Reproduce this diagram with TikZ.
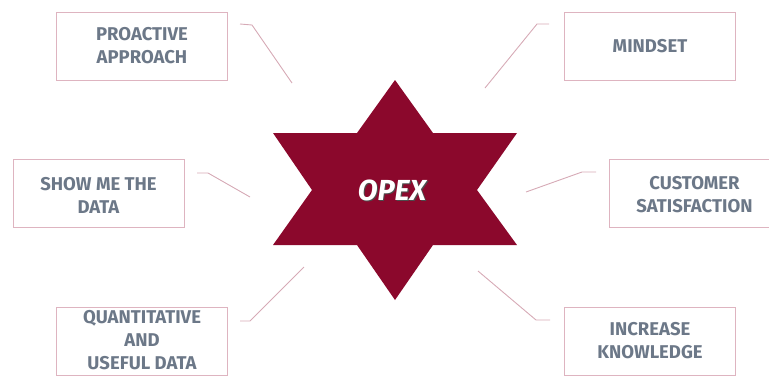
\documentclass[tikz,border=0pt]{standalone}
\usepackage{fontspec}
\setmainfont{Fira Sans}
\definecolor{starred}{RGB}{139,8,44}
\definecolor{boxline}{RGB}{222,180,192}
\definecolor{conn}{RGB}{214,170,182}
\definecolor{txt}{RGB}{108,120,136}
\begin{document}
\begin{tikzpicture}[x=1pt,y=-1pt,
  lbl/.style={draw=boxline,line width=0.9pt,fill=white,minimum width=171pt,minimum height=68pt,inner sep=0pt},
  lbltext/.style={text=txt,font=\fontsize{18.5}{23}\selectfont\bfseries,align=center,inner sep=0pt},
  conline/.style={draw=conn,line width=0.9pt}]
\useasboundingbox (0,0) rectangle (769,376);
\begin{scope}
\clip (0,0) rectangle (769,376);
% star
\fill[starred] (395,80) -- (433,133) -- (517,133) -- (477,190) -- (517,245) -- (433,245)
  -- (395,300) -- (357,245) -- (273,245) -- (312,190) -- (273,133) -- (357,133) -- cycle;
\node[text=black!70,font=\fontsize{29}{29}\selectfont\bfseries\itshape,inner sep=0pt] at (393.2,191.5) {OPEX};
\node (opex) [text=white,font=\fontsize{29}{29}\selectfont\bfseries\itshape,inner sep=0pt] at (392,190) {OPEX};
% boxes
\node (b1) [lbl] at (142,46) {};
\node (b2) [lbl] at (650,46) {};
\node (b3) [lbl] at (98.5,193.5) {};
\node (b4) [lbl] at (694.5,193.5) {};
\node (b5) [lbl] at (142,341) {};
\node (b6) [lbl] at (650,341) {};
\node[lbltext] at (142,46) {PROACTIVE\\APPROACH};
\node[lbltext] at (650,46) {MINDSET};
\node[lbltext] at (98.5,195) {SHOW ME THE\\DATA};
\node[lbltext] at (694.5,195) {CUSTOMER\\SATISFACTION};
\node[lbltext,anchor=north] at (142,310) {QUANTITATIVE\\AND\\USEFUL DATA};
\node[lbltext,anchor=north] at (650,322) {INCREASE\\KNOWLEDGE};
% connector ends
\coordinate (c1a) at (240,24); \coordinate (c1b) at (252,25); \coordinate (c1c) at (292,83);
\coordinate (c2a) at (549,24); \coordinate (c2b) at (537,24); \coordinate (c2c) at (485,88);
\coordinate (c3a) at (197,173); \coordinate (c3b) at (208,173); \coordinate (c3c) at (250,197);
\coordinate (c4a) at (596,172); \coordinate (c4b) at (582,172); \coordinate (c4c) at (526,192);
\coordinate (c5a) at (240,321); \coordinate (c5b) at (250,321); \coordinate (c5c) at (304,267);
\coordinate (c6a) at (550,320); \coordinate (c6b) at (536,320); \coordinate (c6c) at (478,271);
\draw[conline] (c1a) -- (c1b) -- (c1c);
\draw[conline] (c2a) -- (c2b) -- (c2c);
\draw[conline] (c3a) -- (c3b) -- (c3c);
\draw[conline] (c4a) -- (c4b) -- (c4c);
\draw[conline] (c5a) -- (c5b) -- (c5c);
\draw[conline] (c6a) -- (c6b) -- (c6c);
\end{scope}
\end{tikzpicture}
\end{document}
